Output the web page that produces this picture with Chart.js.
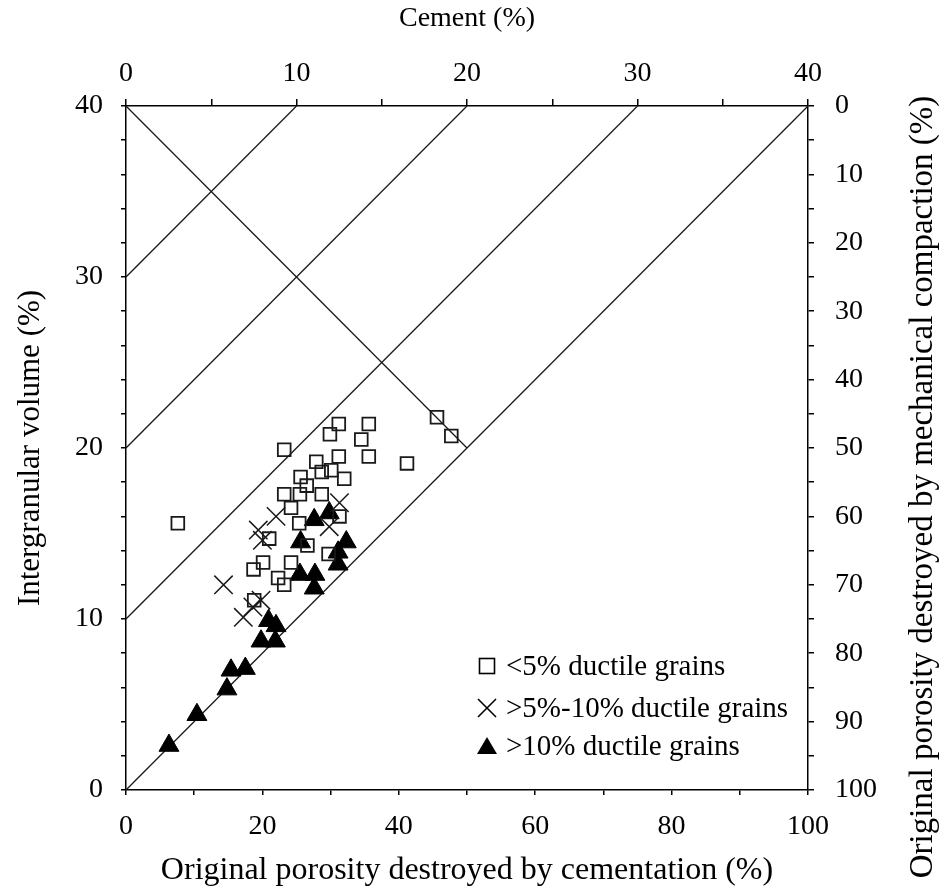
<!DOCTYPE html>
<html>
<head>
<meta charset="utf-8">
<script src="https://cdn.jsdelivr.net/npm/chart.js@4.4.0/dist/chart.umd.min.js"></script>
<style>
html,body{margin:0;padding:0;background:#fff;}
#wrap{width:944px;height:891px;}
</style>
</head>
<body>
<div id="wrap"><canvas id="porosityChart" width="944" height="891"></canvas></div>
<script>
// [original porosity destroyed by cementation %, intergranular volume %]
var lowDuctile = [
    [23.2,19.9],[7.6,15.6],[25.6,18.3],[26.5,17.8],[23.2,17.3],[25.5,17.3],[28.7,17.3],
    [24.2,16.5],[25.4,15.6],[31.3,16.0],[21.0,14.7],[26.6,14.3],[29.7,13.8],[20.1,13.3],
    [18.7,12.9],[24.2,13.3],[22.3,12.4],[23.2,12.0],[18.8,11.1],[31.2,21.4],[29.9,20.8],
    [35.6,21.4],[34.5,20.5],[45.6,21.8],[47.7,20.7],[31.2,19.5],[35.6,19.5],[41.2,19.1],
    [27.9,19.2],[28.7,18.6],[30.1,18.7],[32.0,18.2]
];
var midDuctile = [
    [22.0,16.0],[19.4,15.2],[20.0,14.6],[31.3,16.8],[29.8,15.4],[14.3,12.0],
    [17.2,10.1],[18.6,10.7],[19.8,11.1]
];
var highDuctile = [
    [27.6,15.8],[29.8,16.2],[25.6,14.5],[32.3,14.5],[31.1,13.9],[31.1,13.2],
    [25.5,12.6],[27.7,12.6],[27.6,11.8],[20.9,9.9],[22.0,9.6],[19.8,8.7],
    [21.9,8.7],[15.4,7.0],[17.5,7.1],[14.8,5.9],[10.4,4.4],[6.3,2.6]
];
// cement reference lines and the compaction/cementation divider
var guideLines = [
    [[0,0],[100,40]],
    [[0,10],[75,40]],
    [[0,20],[50,40]],
    [[0,30],[25,40]],
    [[0,40],[50,20]]
];
var legendLabels = ['<5% ductile grains', '>5%-10% ductile grains', '>10% ductile grains'];
var rightTitle = 'Original porosity destroyed by mechanical compaction (%)';

var serif = "'Liberation Serif', 'Times New Roman', serif";

function toPoints(arr){
    return arr.map(function(p){ return {x:p[0], y:p[1]}; });
}

var datasets = [
    {label:legendLabels[0], data:toPoints(lowDuctile), pointStyle:'rect', pointRadius:9,
        borderColor:'#1a1a1a', backgroundColor:'rgba(0,0,0,0)', pointBorderWidth:1.8},
    {label:legendLabels[1], data:toPoints(midDuctile), pointStyle:'crossRot', pointRadius:13,
        borderColor:'#1a1a1a', backgroundColor:'#1a1a1a', pointBorderWidth:1.5},
    {label:legendLabels[2], data:toPoints(highDuctile), pointStyle:'triangle', pointRadius:11.5,
        borderColor:'#000', backgroundColor:'#000', pointBorderWidth:1}
];
guideLines.forEach(function(l){
    datasets.push({
        data:toPoints(l), showLine:true, pointRadius:0,
        borderColor:'#1a1a1a', borderWidth:1.3, fill:false
    });
});

function axisOpts(pos, min, max, step, labelEvery, tickLen, pad, size, extra){
    var o = {
        type:'linear', position:pos, min:min, max:max,
        border:{display:true, color:'#000', width:1.5},
        grid:{drawOnChartArea:false, drawTicks:true, color:'#000', lineWidth:1.5, tickLength:tickLen},
        ticks:{stepSize:step, autoSkip:false, maxRotation:0, padding:pad, color:'#000',
            font:{family:serif, size:28},
            callback:function(v){ return v % labelEvery === 0 ? v : ''; }},
        afterFit:function(s){
            if (pos === 'left' || pos === 'right') s.width = size; else s.height = size;
        }
    };
    for (var k in extra) o[k] = extra[k];
    return o;
}

var extraText = {
    id:'extraText',
    afterDraw:function(chart){
        var ctx = chart.ctx;
        ctx.save();
        ctx.fillStyle = '#000';
        ctx.strokeStyle = '#000';
        // legend inside plot
        ctx.font = '29px ' + serif;
        ctx.textBaseline = 'middle';
        ctx.textAlign = 'left';
        var ys = [666, 708, 746];
        var sx = 487;
        ctx.lineWidth = 1.6;
        ctx.strokeRect(sx-7.5, ys[0]-7.5, 15, 15);
        ctx.beginPath();
        ctx.moveTo(sx-9, ys[1]-9); ctx.lineTo(sx+9, ys[1]+9);
        ctx.moveTo(sx+9, ys[1]-9); ctx.lineTo(sx-9, ys[1]+9);
        ctx.stroke();
        ctx.beginPath();
        ctx.moveTo(sx, ys[2]-9); ctx.lineTo(sx+10, ys[2]+8); ctx.lineTo(sx-10, ys[2]+8);
        ctx.closePath(); ctx.fill();
        for (var i = 0; i < legendLabels.length; i++) {
            ctx.fillText(legendLabels[i], 506, ys[i]+1);
        }
        // right axis title, reading upward
        ctx.translate(923, 487);
        ctx.rotate(-Math.PI/2);
        ctx.textAlign = 'center';
        ctx.font = '33px ' + serif;
        ctx.fillText(rightTitle, 0, 0);
        ctx.restore();
    }
};

var chart = new Chart(document.getElementById('porosityChart'), {
    type:'scatter',
    data:{datasets:datasets},
    options:{
        responsive:false,
        animation:false,
        layout:{padding:0},
        plugins:{legend:{display:false}, tooltip:{enabled:false}},
        scales:{
            x:axisOpts('bottom', 0, 100, 10, 20, 5, 15, 101, {
                title:{display:true, text:'Original porosity destroyed by cementation (%)', color:'#000',
                    font:{family:serif, size:32, lineHeight:1}, padding:{top:0, bottom:4}}
            }),
            x2:axisOpts('top', 0, 40, 5, 10, 7, 9, 106, {
                title:{display:true, text:'Cement (%)', color:'#000',
                    font:{family:serif, size:28, lineHeight:1}, padding:{top:5, bottom:0}}
            }),
            y:axisOpts('left', 0, 40, 2, 10, 5, 18, 126, {
                title:{display:true, text:'Intergranular volume (%)', color:'#000',
                    font:{family:serif, size:31, lineHeight:1}, padding:{top:15, bottom:0}}
            }),
            y2:axisOpts('right', 0, 100, 5, 10, 6, 21, 136, {reverse:true})
        }
    },
    plugins:[extraText]
});
</script>
</body>
</html>
